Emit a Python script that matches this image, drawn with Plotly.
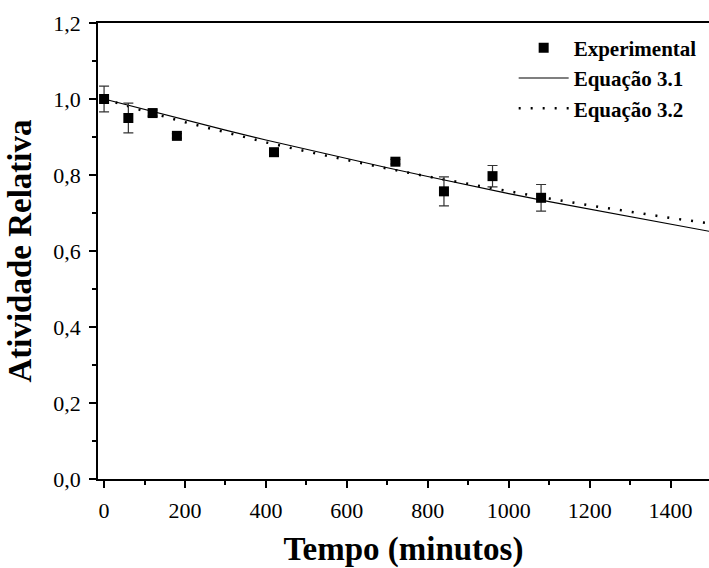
import plotly.graph_objects as go

# Experimental data
t_exp = [0, 60, 120, 180, 420, 720, 840, 960, 1080]
a_exp = [1.000, 0.950, 0.963, 0.903, 0.860, 0.835, 0.757, 0.797, 0.740]
a_err = [0.034, 0.039, 0.008, 0.006, 0.008, 0.006, 0.038, 0.028, 0.035]

# Fitted curves
t_fit = [0, 100, 200, 300, 400, 500, 600, 700, 800, 900, 1000, 1100, 1200, 1300, 1400, 1495]
a_eq31 = [1.000, 0.972, 0.944, 0.918, 0.892, 0.867, 0.842, 0.819, 0.796, 0.773, 0.751, 0.730,
          0.710, 0.690, 0.670, 0.652]
a_eq32 = [1.000, 0.968, 0.939, 0.912, 0.886, 0.862, 0.839, 0.817, 0.796, 0.776, 0.756, 0.738,
          0.720, 0.703, 0.687, 0.673]

x_ticks = [0, 200, 400, 600, 800, 1000, 1200, 1400]
y_ticks = [0.0, 0.2, 0.4, 0.6, 0.8, 1.0, 1.2]
y_tick_labels = ["0,0", "0,2", "0,4", "0,6", "0,8", "1,0", "1,2"]

FONT = "Liberation Serif"

fig = go.Figure()
fig.add_trace(go.Scatter(
    x=t_fit, y=a_eq31, mode="lines", name="Equação 3.1", legendrank=2,
    line=dict(color="black", width=1.2)))
fig.add_trace(go.Scatter(
    x=t_fit, y=a_eq32, mode="lines", name="Equação 3.2", legendrank=3,
    line=dict(color="black", width=2.5, dash="2px,10px")))
fig.add_trace(go.Scatter(
    x=t_exp, y=a_exp, mode="markers", name="Experimental", legendrank=1,
    marker=dict(symbol="square", size=10, color="black"),
    error_y=dict(type="data", array=a_err, visible=True, color="#333333",
                 thickness=1.2, width=5)))

fig.update_layout(
    width=709, height=568,
    margin=dict(l=98, r=0, t=23, b=89),
    paper_bgcolor="white", plot_bgcolor="white",
    font=dict(family=FONT, color="black", size=22),
    showlegend=True,
    legend=dict(
        x=0.988, y=0.99, xanchor="right", yanchor="top",
        bgcolor="rgba(0,0,0,0)", borderwidth=0,
        font=dict(family=FONT, size=21, color="black", weight="bold"),
        itemwidth=50, tracegroupgap=0),
    xaxis=dict(
        range=[-15, 1495], tickmode="array", tickvals=x_ticks,
        ticks="outside", ticklen=7, tickwidth=1.5, tickcolor="black",
        ticklabelstandoff=4,
        showline=True, linecolor="black", linewidth=1.5, mirror=True,
        showgrid=False, zeroline=False,
        minor=dict(dtick=100, ticks="outside", ticklen=4, tickwidth=1.5, tickcolor="black"),
        tickfont=dict(family=FONT, size=22),
        title=dict(text="<b>Tempo (minutos)</b>", font=dict(family=FONT, size=33), standoff=18)),
    yaxis=dict(
        range=[0, 1.2], tickmode="array", tickvals=y_ticks, ticktext=y_tick_labels,
        ticks="outside", ticklen=7, tickwidth=1.5, tickcolor="black",
        ticklabelstandoff=4,
        showline=True, linecolor="black", linewidth=1.5, mirror=False,
        showgrid=False, zeroline=False,
        minor=dict(dtick=0.1, ticks="outside", ticklen=4, tickwidth=1.5, tickcolor="black"),
        tickfont=dict(family=FONT, size=22),
        title=dict(text="<b>Atividade Relativa</b>", font=dict(family=FONT, size=33), standoff=12)),
)

fig.write_html("out.html")
